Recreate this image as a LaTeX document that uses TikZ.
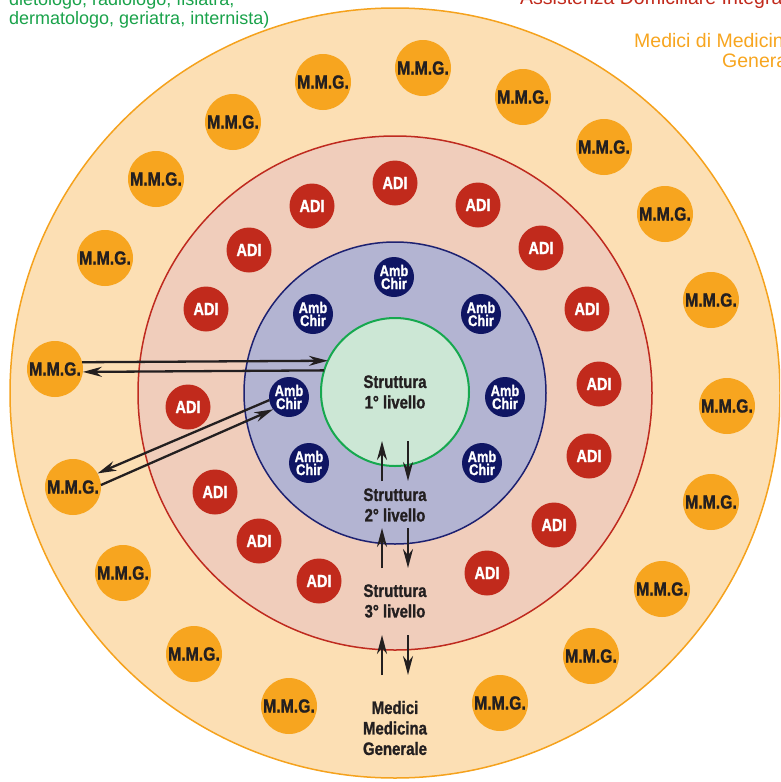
\documentclass[tikz,border=0pt]{standalone}
\usepackage{fontspec}
\setmainfont{Liberation Sans}
\newfontfamily\narrowfont[FakeStretch=0.83,BoldFeatures={FakeBold=1.2}]{Liberation Sans}
\usetikzlibrary{arrows.meta}

\definecolor{outerfill}{RGB}{252,223,180}
\definecolor{outerline}{RGB}{245,162,29}
\definecolor{mmgorange}{RGB}{247,165,31}
\definecolor{redfill}{RGB}{240,205,187}
\definecolor{redline}{RGB}{191,42,31}
\definecolor{adired}{RGB}{193,42,28}
\definecolor{bluefill}{RGB}{179,180,210}
\definecolor{blueline}{RGB}{29,33,113}
\definecolor{ambnavy}{RGB}{15,21,99}
\definecolor{greenfill}{RGB}{204,231,213}
\definecolor{greenline}{RGB}{22,168,79}
\definecolor{notegreen}{RGB}{25,162,74}
\definecolor{textgrey}{RGB}{35,31,32}

\begin{document}
\begin{tikzpicture}[x=1pt,y=-1pt,line join=bevel]
  \tikzstyle{ring}=[circle,inner sep=0pt,outer sep=0pt,line width=1.5pt]
  \tikzstyle{disc}=[circle,inner sep=0pt,outer sep=0pt,align=center]
  \tikzstyle{mmg}=[disc,fill=mmgorange,minimum size=56pt,text=textgrey,font=\narrowfont\bfseries\fontsize{19}{19}\selectfont]
  \tikzstyle{adi}=[disc,fill=adired,minimum size=45pt,text=white,font=\narrowfont\bfseries\fontsize{17.5}{17.5}\selectfont]
  \tikzstyle{amb}=[disc,fill=ambnavy,minimum size=40pt,text=white,font=\narrowfont\bfseries\fontsize{15.5}{13}\selectfont]
  \tikzstyle{level}=[align=center,text=textgrey,font=\narrowfont\bfseries\fontsize{18}{20.5}\selectfont]
  \tikzstyle{flow}=[-{Stealth[length=19pt,width=10pt]},line width=2.3pt,draw=textgrey]
  \tikzstyle{note}=[anchor=base west,inner sep=0pt,font=\fontsize{18}{18}\selectfont]

  \useasboundingbox (0,0) rectangle (780,782);
  \clip (0,0) rectangle (780,782);

  % rings, outside in
  \node[ring,fill=outerfill,draw=outerline,minimum size=770pt] (R_4) at (395,393) {};
  \node[ring,fill=redfill,draw=redline,minimum size=514pt] (R_3) at (395,393) {};
  \node[ring,fill=bluefill,draw=blueline,minimum size=302pt] (R_2) at (395,393) {};
  \node[ring,fill=greenfill,draw=greenline,line width=2pt,minimum size=148pt,
        align=center,text=textgrey,font=\narrowfont\bfseries\fontsize{18}{20.5}\selectfont] (S_1) at (395,392) {Struttura\\1° livello};

  \node[level] (S_2) at (395,505) {Struttura\\2° livello};
  \node[level] (S_3) at (395,601) {Struttura\\3° livello};
  \node[level] (S_4) at (395,728) {Medici\\Medicina\\Generale};

  \foreach \x/\y [count=\i] in {423/68, 523/97, 604/147, 665/214, 711/300, 727/406,
      711/502, 662/589, 591/656, 500/703, 289/706, 194/654, 123/573, 73/487,
      55/369, 105/258, 156/179, 233/122, 323/82}
    \node[mmg] (MMG_\i) at (\x,\y) {M.M.G.};

  \foreach \x/\y [count=\i] in {395/183, 478/205, 541/248, 587/309, 599/384,
      589/456, 554/525, 487/573, 319/581, 259/541, 215/492, 188/407, 206/309,
      249/250, 312/206}
    \node[adi] (ADI_\i) at (\x,\y) {ADI};

  \foreach \x/\y [count=\i] in {394/277, 481/314, 505/397, 482/463, 309/463,
      289/397, 313/314}
    \node[amb] (AMB_\i) at (\x,\y) {Amb\\Chir};

  % links between levels
  \foreach \y [count=\i] in {441,528,635} {
    \coordinate (Ua_\i) at (382,\y+40);
    \coordinate (Ub_\i) at (382,\y);
    \coordinate (Da_\i) at (408,\y);
    \coordinate (Db_\i) at (408,\y+40);
    \draw[flow] (Ua_\i) -- (Ub_\i);
    \draw[flow] (Da_\i) -- (Db_\i);
  }

  \draw[flow] (MMG_15.14) -- (S_1.155);
  \draw[flow] (S_1.163) -- (MMG_15.-6);
  \draw[flow] (AMB_6.189) -- (MMG_14.29);
  \draw[flow] (MMG_14.4) -- (AMB_6.218);

  % captions cut by the page edge
  \node[note,text=notegreen] (N_1) at (9,5) {dietologo, radiologo, fisiatra,};
  \node[note,text=notegreen] (N_2) at (9,24) {dermatologo, geriatra, internista)};
  \node[note,text=adired,font=\fontsize{19.5}{19.5}\selectfont] (N_3) at (520,4) {Assistenza Domiciliare Integrata};
  \node[note,text=mmgorange,font=\fontsize{19.5}{19.5}\selectfont] (N_4) at (634,47) {Medici di Medicina};
  \node[note,text=mmgorange,font=\fontsize{19.5}{19.5}\selectfont] (N_5) at (722,67) {Generale};
\end{tikzpicture}
\end{document}
